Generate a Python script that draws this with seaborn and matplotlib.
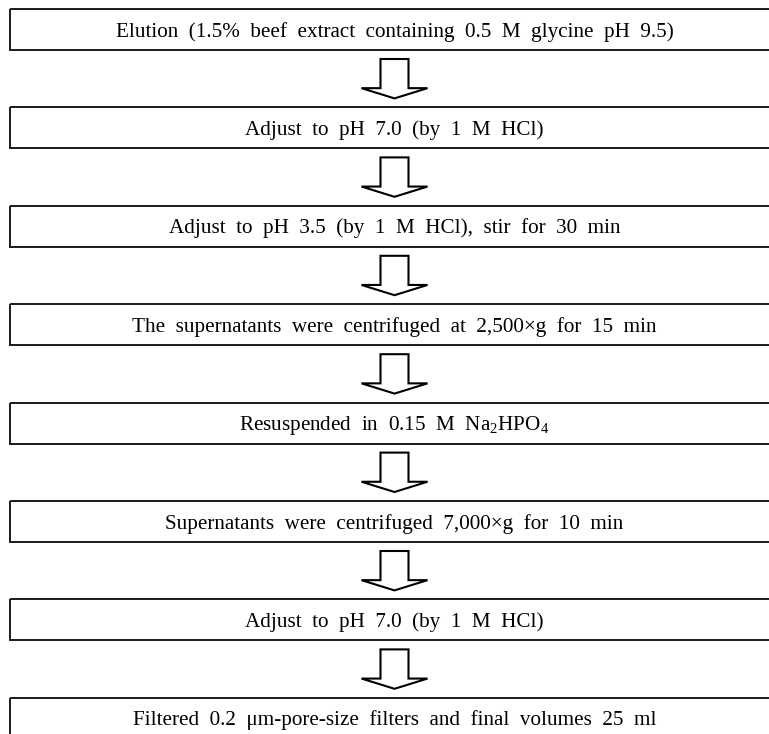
import matplotlib
matplotlib.use("Agg")
import matplotlib.pyplot as plt
import seaborn as sns
from matplotlib.patches import Rectangle, Polygon

sns.set_theme(style="white")
plt.rcParams['font.family'] = ['Liberation Serif', 'DejaVu Serif']
plt.rcParams['mathtext.fontset'] = 'custom'
plt.rcParams['mathtext.rm'] = 'Liberation Serif'
plt.rcParams['mathtext.it'] = 'Liberation Serif:italic'

# Flowchart steps (top to bottom)
steps = [
    "Elution (1.5% beef extract containing 0.5 M glycine pH 9.5)",
    "Adjust to pH 7.0 (by 1 M HCl)",
    "Adjust to pH 3.5 (by 1 M HCl), stir for 30 min",
    "The supernatants were centrifuged at 2,500×g for 15 min",
    r"Resuspended in 0.15 M Na$_2$HPO$_4$",
    "Supernatants were centrifuged 7,000×g for 10 min",
    "Adjust to pH 7.0 (by 1 M HCl)",
    "Filtered 0.2 μm-pore-size filters and final volumes 25 ml",
]

W, H = 769, 734
fig = plt.figure(figsize=(W / 100, H / 100), dpi=100)
ax = fig.add_axes([0, 0, 1, 1])
ax.set_xlim(0, W)
ax.set_ylim(H, 0)
ax.axis("off")

left, right = 10, 779
cx = 394.5
top0, pitch, bh = 9, 98.4, 41
gap_pad = 9
edge = "#1a1a1a"

for i, s in enumerate(steps):
    y0 = top0 + i * pitch
    ax.add_patch(Rectangle((left, y0), right - left, bh, fill=False,
                           edgecolor=edge, lw=1.4))
    label = s.replace(" ", "  ")
    ax.text(cx, y0 + 27.5, label, ha="center", va="baseline",
            fontsize=15.2, color="black")
    if i < len(steps) - 1:
        a_top = y0 + bh + gap_pad
        a_tip = top0 + (i + 1) * pitch - gap_pad
        a_mid = a_top + 0.74 * (a_tip - a_top)
        sw, hw = 14, 33
        pts = [(cx - sw, a_top), (cx + sw, a_top), (cx + sw, a_mid),
               (cx + hw, a_mid), (cx, a_tip), (cx - hw, a_mid),
               (cx - sw, a_mid)]
        ax.add_patch(Polygon(pts, closed=True, facecolor="white",
                             edgecolor="black", lw=1.5, joinstyle="miter"))

fig.savefig("out.png", dpi=100)
